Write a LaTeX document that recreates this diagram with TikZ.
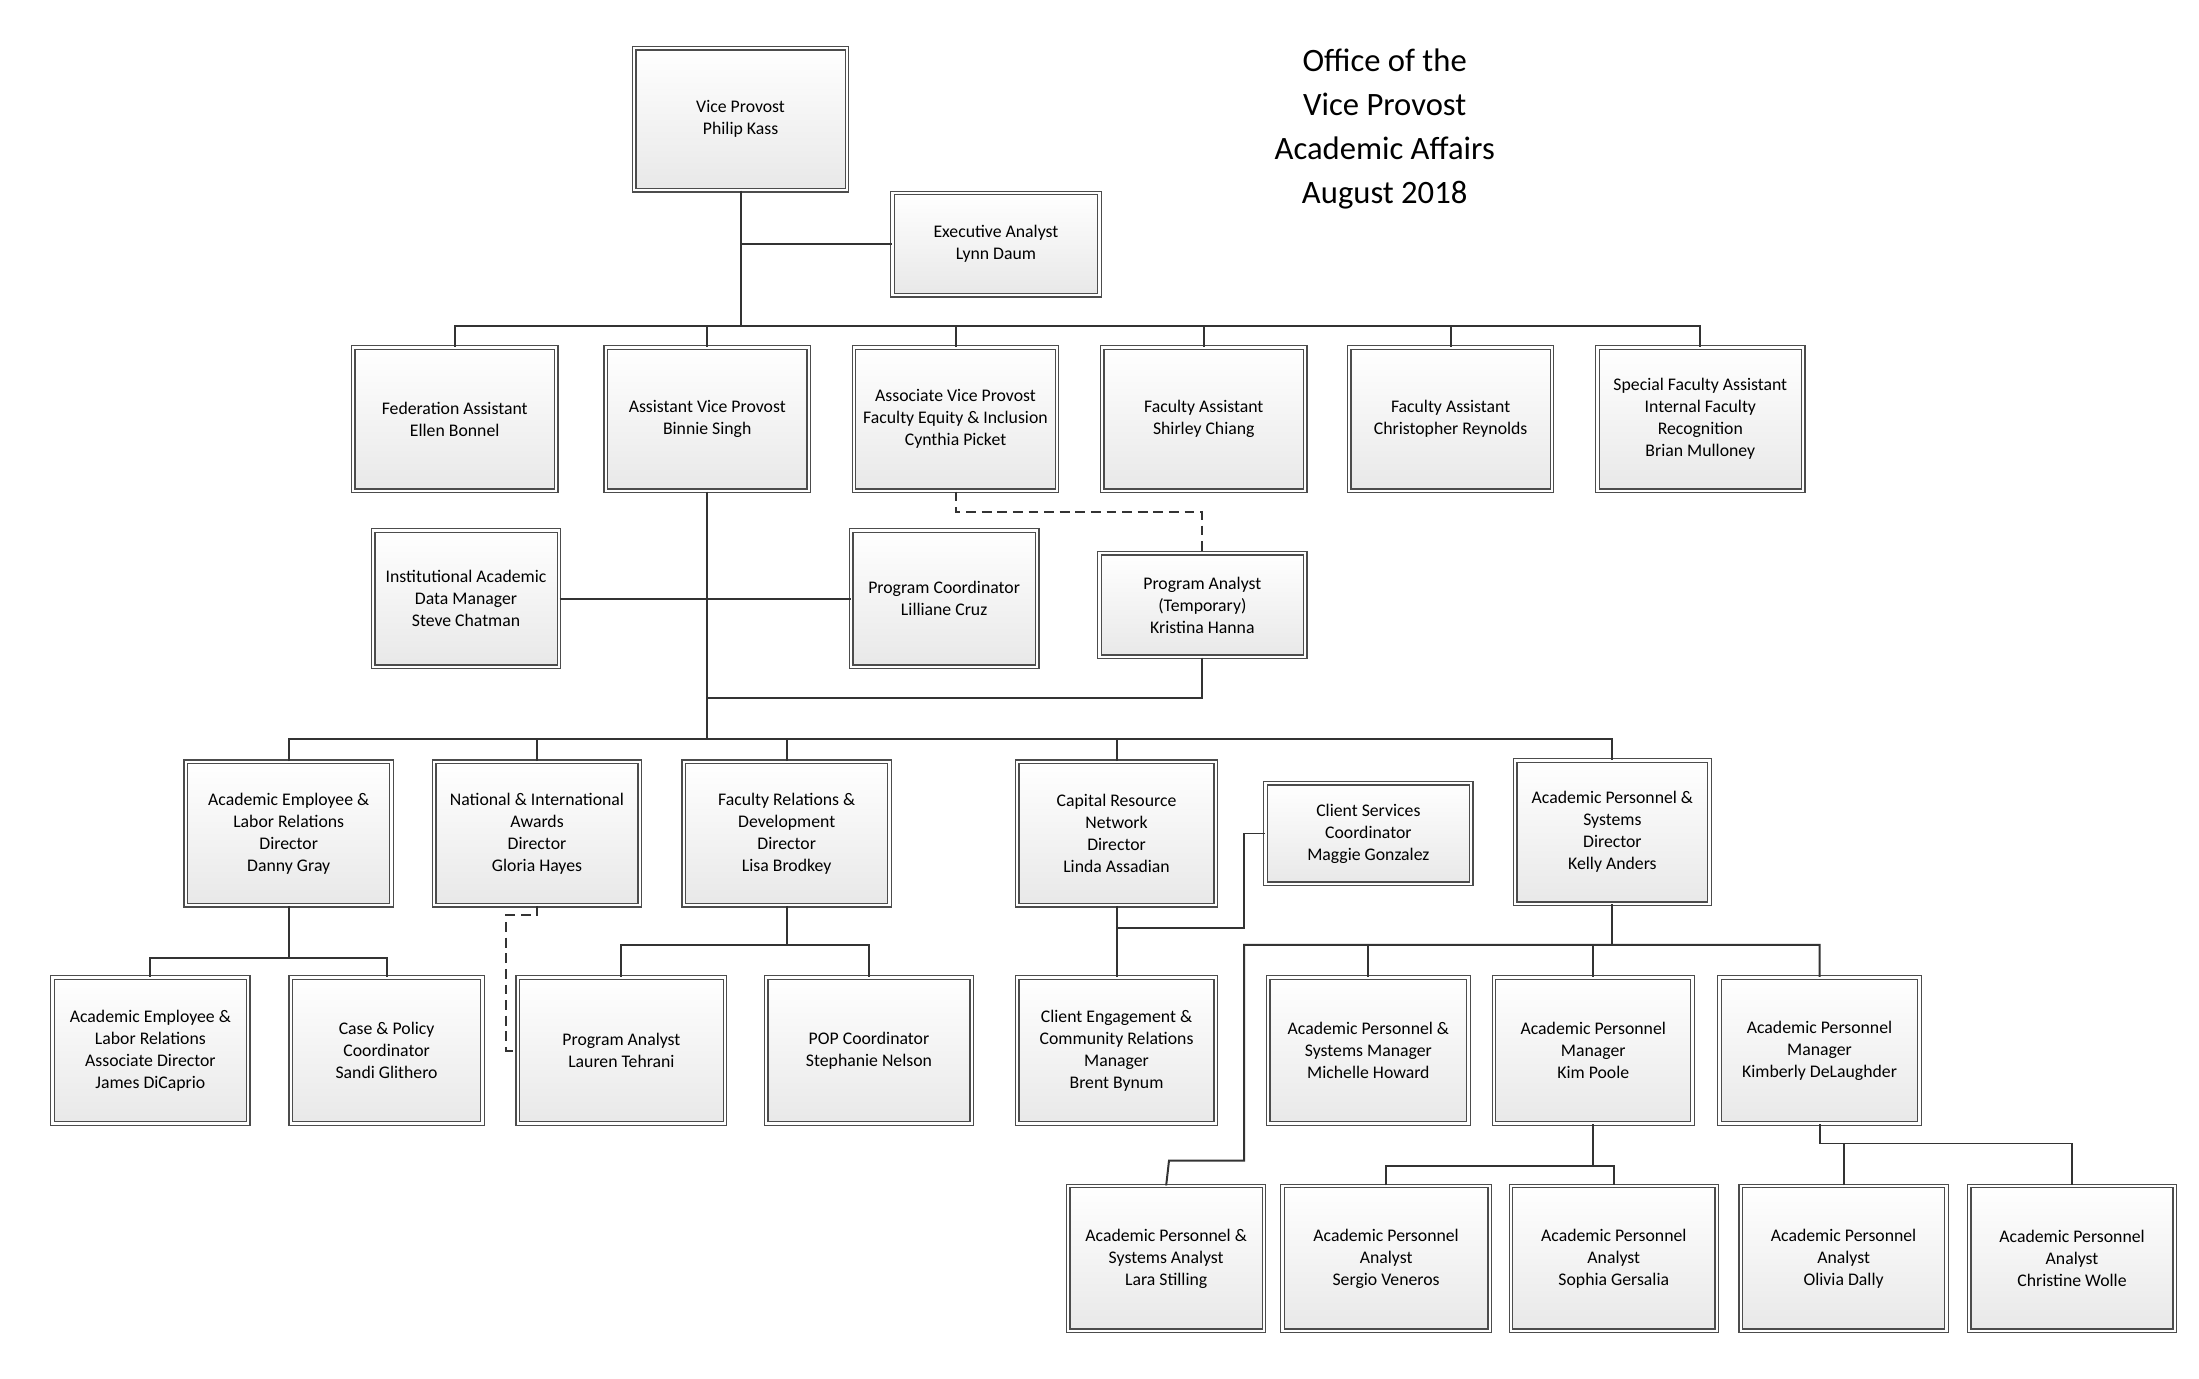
\documentclass[tikz,border=0pt]{standalone}
\usepackage{fontspec}
\setmainfont{Carlito}
\usetikzlibrary{shadows}
\begin{document}
\begin{tikzpicture}[x=1pt,y=-1pt,
  box/.style={draw=black!70,double=white,double distance=1.6pt,line width=0.9pt,
    top color=white,bottom color=black!9,drop shadow={opacity=0.25,shadow xshift=1.5pt,shadow yshift=-1.5pt},
    align=center,font=\fontsize{12.5}{15.5}\selectfont,inner sep=1pt},
  ln/.style={line width=1.4pt,black!80},
  dl/.style={ln,dashed,dash pattern=on 7pt off 4pt}]
\useasboundingbox (0,0) rectangle (1550,972);
\newcommand\bx[6]{\node[box,minimum width=#4,minimum height=#5] (#1) at (#2,#3) {#6};}
\node[align=center,font=\fontsize{23}{31}\selectfont] (title) at (976,91) {Office of the\\Vice Provost\\Academic Affairs\\August 2018};
\bx{vp}{522}{84}{150}{100}{Vice Provost\\Philip Kass}
\bx{ea}{702}{172}{146}{72}{Executive Analyst\\Lynn Daum}
\bx{fed}{320.5}{295.5}{143}{101}{Federation Assistant\\Ellen Bonnel}
\bx{avp}{498.5}{295.5}{143}{101}{Assistant Vice Provost\\Binnie Singh}
\bx{asvp}{673.5}{295.5}{143}{101}{Associate Vice Provost\\Faculty Equity \& Inclusion\\Cynthia Picket}
\bx{fas}{848.5}{295.5}{143}{101}{Faculty Assistant\\Shirley Chiang}
\bx{fac}{1022.5}{295.5}{143}{101}{Faculty Assistant\\Christopher Reynolds}
\bx{sfa}{1198.5}{295.5}{145}{101}{Special Faculty Assistant\\Internal Faculty\\Recognition\\Brian Mulloney}
\bx{iad}{328.5}{422}{131}{96}{Institutional Academic\\Data Manager\\Steve Chatman}
\bx{pc}{665.5}{422}{131}{96}{Program Coordinator\\Lilliane Cruz}
\bx{pat}{847.5}{426.5}{145}{73}{Program Analyst\\(Temporary)\\Kristina Hanna}
\bx{ael}{203.5}{587.5}{145}{101}{Academic Employee \&\\Labor Relations\\Director\\Danny Gray}
\bx{nia}{378.5}{587.5}{145}{101}{National \& International\\Awards\\Director\\Gloria Hayes}
\bx{frd}{554.5}{587.5}{145}{101}{Faculty Relations \&\\Development\\Director\\Lisa Brodkey}
\bx{crn}{787}{587.5}{140}{101}{Capital Resource\\Network\\Director\\Linda Assadian}
\bx{csc}{964.5}{587.5}{145}{71}{Client Services\\Coordinator\\Maggie Gonzalez}
\bx{aps}{1136.5}{586.5}{137}{101}{Academic Personnel \&\\Systems\\Director\\Kelly Anders}
\bx{aela}{106}{740.5}{138}{103}{Academic Employee \&\\Labor Relations\\Associate Director\\James DiCaprio}
\bx{cpc}{272.5}{740.5}{135}{103}{Case \& Policy\\Coordinator\\Sandi Glithero}
\bx{pal}{438}{740.5}{146}{103}{Program Analyst\\Lauren Tehrani}
\bx{pop}{612.5}{740.5}{145}{103}{POP Coordinator\\Stephanie Nelson}
\bx{cec}{787}{740.5}{140}{103}{Client Engagement \&\\Community Relations\\Manager\\Brent Bynum}
\bx{apsm}{964.5}{740.5}{141}{103}{Academic Personnel \&\\Systems Manager\\Michelle Howard}
\bx{kim}{1123}{740.5}{140}{103}{Academic Personnel\\Manager\\Kim Poole}
\bx{kbd}{1282.5}{740.5}{141}{103}{Academic Personnel\\Manager\\Kimberly DeLaughder}
\bx{lara}{822}{887}{138}{102}{Academic Personnel \&\\Systems Analyst\\Lara Stilling}
\bx{serg}{977}{887}{146}{102}{Academic Personnel\\Analyst\\Sergio Veneros}
\bx{soph}{1137.5}{887}{145}{102}{Academic Personnel\\Analyst\\Sophia Gersalia}
\bx{oliv}{1299.5}{887}{145}{102}{Academic Personnel\\Analyst\\Olivia Dally}
\bx{chris}{1460.5}{887}{145}{102}{Academic Personnel\\Analyst\\Christine Wolle}
\coordinate (b1) at (522,230);
\draw[ln] (vp.south) -- (b1);
\draw[ln] (522,172) -- (ea.west);
\draw[ln] (fed.north) -- (320.5,230) -- (1198.5,230) -- (sfa.north);
\foreach \n in {avp,asvp,fas,fac} \draw[ln] (\n.north) -- (\n.north |- b1);
\coordinate (b2) at (498.5,492);
\draw[ln] (avp.south) -- (b2);
\draw[ln] (iad.east) -- (pc.west);
\draw[dl] (asvp.south) -- (673.5,361) -- (847.5,361) -- (pat.north);
\draw[ln] (pat.south) -- (847.5,492) -- (b2);
\draw[ln] (b2) -- (498.5,521);
\draw[ln] (ael.north) -- (203.5,521) -- (1136.5,521) -- (aps.north);
\foreach \n in {nia,frd,crn} \draw[ln] (\n.north) -- (\n.north |- 0,521);
\draw[ln] (ael.south) -- (203.5,675);
\draw[ln] (aela.north) -- (106,675) -- (272.5,675) -- (cpc.north);
\draw[dl] (nia.south) -- (378.5,645) -- (357,645) -- (357,740.5) -- (pal.west);
\draw[ln] (frd.south) -- (554.5,666);
\draw[ln] (pal.north) -- (438,666) -- (612.5,666) -- (pop.north);
\draw[ln] (crn.south) -- (cec.north);
\draw[ln] (787,654) -- (877,654) -- (877,587.5) -- (csc.west);
\draw[ln] (aps.south) -- (1136.5,666);
\draw[ln] (lara.north) -- (824,818) -- (877,818) -- (877,666) -- (1282.5,666) -- (kbd.north);
\draw[ln] (apsm.north) -- (964.5,666);
\draw[ln] (kim.north) -- (1123,666);
\draw[ln] (kim.south) -- (1123,822);
\draw[ln] (serg.north) -- (977,822) -- (1137.5,822) -- (soph.north);
\draw[ln] (kbd.south) -- (1282.5,806) -- (1460.5,806) -- (chris.north);
\draw[ln] (oliv.north) -- (1299.5,806);
\end{tikzpicture}
\end{document}
